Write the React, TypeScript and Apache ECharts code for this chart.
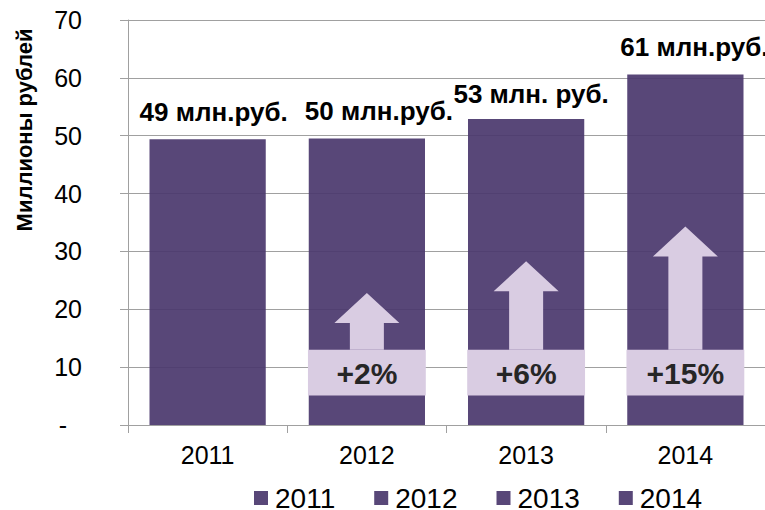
import React, { useEffect, useRef } from "react";
import * as echarts from "echarts";

// ---- data ----
const categories = ["2011", "2012", "2013", "2014"];
const values = [49.4, 49.5, 52.9, 60.6];
const valueLabels = ["49 млн.руб.", "50 млн.руб.", "53 млн. руб.", "61 млн.руб."];
const growthCategories = ["2012", "2013", "2014"];
const growthLabels = ["+2%", "+6%", "+15%"];
const growthArrowTips = [22.8, 28.3, 34.3];
const yAxisTitle = "Миллионы рублей";

const FONT = "'Liberation Sans', Arial, sans-serif";
const BAR_COLOR = "rgba(74,55,108,0.92)";
const ARROW_COLOR = "#D9CCE2";
const AXIS_COLOR = "#A0A0A0";
const LABEL_OFFSETS = [[6, -9], [12, -9], [5, -6], [9, -9]];

export default function App() {
  const ref = useRef<HTMLDivElement>(null);
  useEffect(() => {
    if (!ref.current) return;
    const chart = echarts.init(ref.current, null, { renderer: "svg" });

    const barSeries = categories.map((name, i) => ({
      name,
      type: "bar",
      stack: "total",
      barWidth: "73%",
      itemStyle: { color: BAR_COLOR },
      data: categories.map((_, j) =>
        j === i
          ? {
              value: values[i],
              label: {
                show: true,
                position: "top",
                distance: 5,
                offset: LABEL_OFFSETS[i],
                formatter: () => valueLabels[i],
                fontFamily: FONT,
                fontWeight: "bold",
                fontSize: 26,
                lineHeight: 27,
                color: "#000",
              },
            }
          : "-"
      ),
    }));

    const growthData = growthCategories.map((c, i) => [
      categories.indexOf(c),
      growthArrowTips[i],
      i,
    ]);

    const growthSeries = {
      name: "growth",
      type: "custom",
      z: 5,
      data: growthData,
      renderItem: (params: any, api: any) => {
        const idx = api.value(0);
        const tip = api.value(1);
        const li = api.value(2);
        const cx = api.coord([idx, 0])[0];
        const catW = api.size([1, 0])[0];
        const yTip = api.coord([idx, tip])[1];
        const yBoxTop = api.coord([idx, 13])[1];
        const yBoxBot = api.coord([idx, 5.1])[1];
        const headH = 30;
        const headHalf = 32.5;
        const shaftHalf = 17;
        const boxHalf = catW * 0.37;
        return {
          type: "group",
          children: [
            {
              type: "polygon",
              shape: {
                points: [
                  [cx, yTip],
                  [cx + headHalf, yTip + headH],
                  [cx + shaftHalf, yTip + headH],
                  [cx + shaftHalf, yBoxTop],
                  [cx - shaftHalf, yBoxTop],
                  [cx - shaftHalf, yTip + headH],
                  [cx - headHalf, yTip + headH],
                ],
              },
              style: { fill: ARROW_COLOR },
            },
            {
              type: "rect",
              shape: {
                x: cx - boxHalf,
                y: yBoxTop,
                width: boxHalf * 2,
                height: yBoxBot - yBoxTop,
              },
              style: { fill: ARROW_COLOR },
            },
            {
              type: "text",
              style: {
                text: growthLabels[li],
                x: cx,
                y: (yBoxTop + yBoxBot) / 2 + 1,
                align: "center",
                verticalAlign: "middle",
                fontFamily: FONT,
                fontWeight: "bold",
                fontSize: 30,
                fill: "#262626",
              },
            },
          ],
        };
      },
    };

    chart.setOption({
      animation: false,
      textStyle: { fontFamily: FONT },
      grid: { left: 128, right: -3, top: 20, bottom: 85, containLabel: false },
      xAxis: {
        type: "category",
        data: categories,
        boundaryGap: true,
        axisLine: { show: true, lineStyle: { color: AXIS_COLOR, width: 1 } },
        axisTick: { show: true, length: 8, alignWithLabel: false, lineStyle: { color: AXIS_COLOR } },
        axisLabel: { fontFamily: FONT, fontSize: 25, color: "#000", margin: 17 },
        splitLine: { show: false },
      },
      yAxis: {
        type: "value",
        min: 0,
        max: 70,
        interval: 10,
        axisLine: { show: true, lineStyle: { color: AXIS_COLOR, width: 1 } },
        axisTick: { show: true, length: 8, inside: false, lineStyle: { color: AXIS_COLOR } },
        axisLabel: {
          fontFamily: FONT,
          fontSize: 25,
          color: "#000",
          margin: 46,
          formatter: (v: number) => (v === 0 ? "{d|-}" : String(v)),
          rich: { d: { fontFamily: FONT, fontSize: 25, color: "#000", padding: [0, 15, 0, 0] } },
        },
        splitLine: { show: true, lineStyle: { color: AXIS_COLOR, width: 1 } },
      },
      legend: {
        data: categories,
        left: 249,
        top: 479,
        padding: 5,
        icon: "rect",
        itemWidth: 14,
        itemHeight: 14,
        itemGap: 39,
        textStyle: { fontFamily: FONT, fontSize: 28, color: "#000", padding: [0, 0, 0, 2] },
      },
      graphic: [
        {
          type: "text",
          x: 24,
          y: 130,
          rotation: Math.PI / 2,
          style: {
            text: yAxisTitle,
            align: "center",
            verticalAlign: "middle",
            fontFamily: FONT,
            fontWeight: "bold",
            fontSize: 22,
            fill: "#000",
          },
        },
      ],
      series: [...barSeries, growthSeries],
    });

    return () => chart.dispose();
  }, []);

  return (
    <div
      ref={ref}
      style={{ position: "fixed", left: 0, top: 0, width: 765, height: 510, background: "#fff" }}
    />
  );
}
